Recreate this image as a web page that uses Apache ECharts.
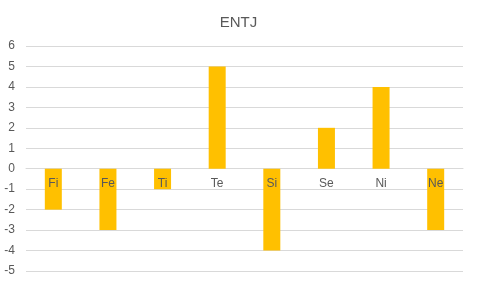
<!DOCTYPE html>
<html><head><meta charset="utf-8">
<script src="https://cdn.jsdelivr.net/npm/echarts@6/dist/echarts.min.js"></script>
<style>html,body{margin:0;padding:0;background:#fff}#c{width:477px;height:284px}</style>
</head><body><div id="c"></div>
<script>
const categories = ['Fi','Fe','Ti','Te','Si','Se','Ni','Ne'];
const values = [-2,-3,-1,5,-4,2,4,-3];
const labelAnchors = [0,0,0,0,0,0,0,0];
const titleText = 'ENTJ';
const chart = echarts.init(document.getElementById('c'), null, {renderer:'canvas'});
chart.setOption({
  animation:false,
  backgroundColor:'#fff',
  title:{text:titleText,left:'center',top:10,textStyle:{color:'#595959',fontSize:15,fontWeight:'normal',fontFamily:'Liberation Sans, Arial, sans-serif'}},
  grid:{left:26,right:14,top:46,bottom:13,containLabel:false,outerBoundsMode:'none'},
  xAxis:{type:'category',data:categories,
    axisLine:{onZero:true,lineStyle:{color:'#d9d9d9'}},
    axisTick:{show:false},
    axisLabel:{show:false}},
  yAxis:{type:'value',min:-5,max:6,interval:1,
    axisLine:{show:false},axisTick:{show:false},
    splitLine:{lineStyle:{color:'#d9d9d9'}},
    axisLabel:{color:'#595959',fontSize:12,margin:11,fontFamily:'Liberation Sans, Arial, sans-serif'}},
  series:[
    {type:'bar',data:values,barWidth:17,itemStyle:{color:'#FFC000'},z:2},
    {type:'bar',data:labelAnchors,barWidth:17,barGap:'-100%',z:4,silent:true,
     itemStyle:{color:'rgba(0,0,0,0)'},
     label:{show:true,position:'bottom',distance:9,formatter:'{b}',color:'#595959',fontSize:12,fontFamily:'Liberation Sans, Arial, sans-serif'}}
  ]
});
</script></body></html>
